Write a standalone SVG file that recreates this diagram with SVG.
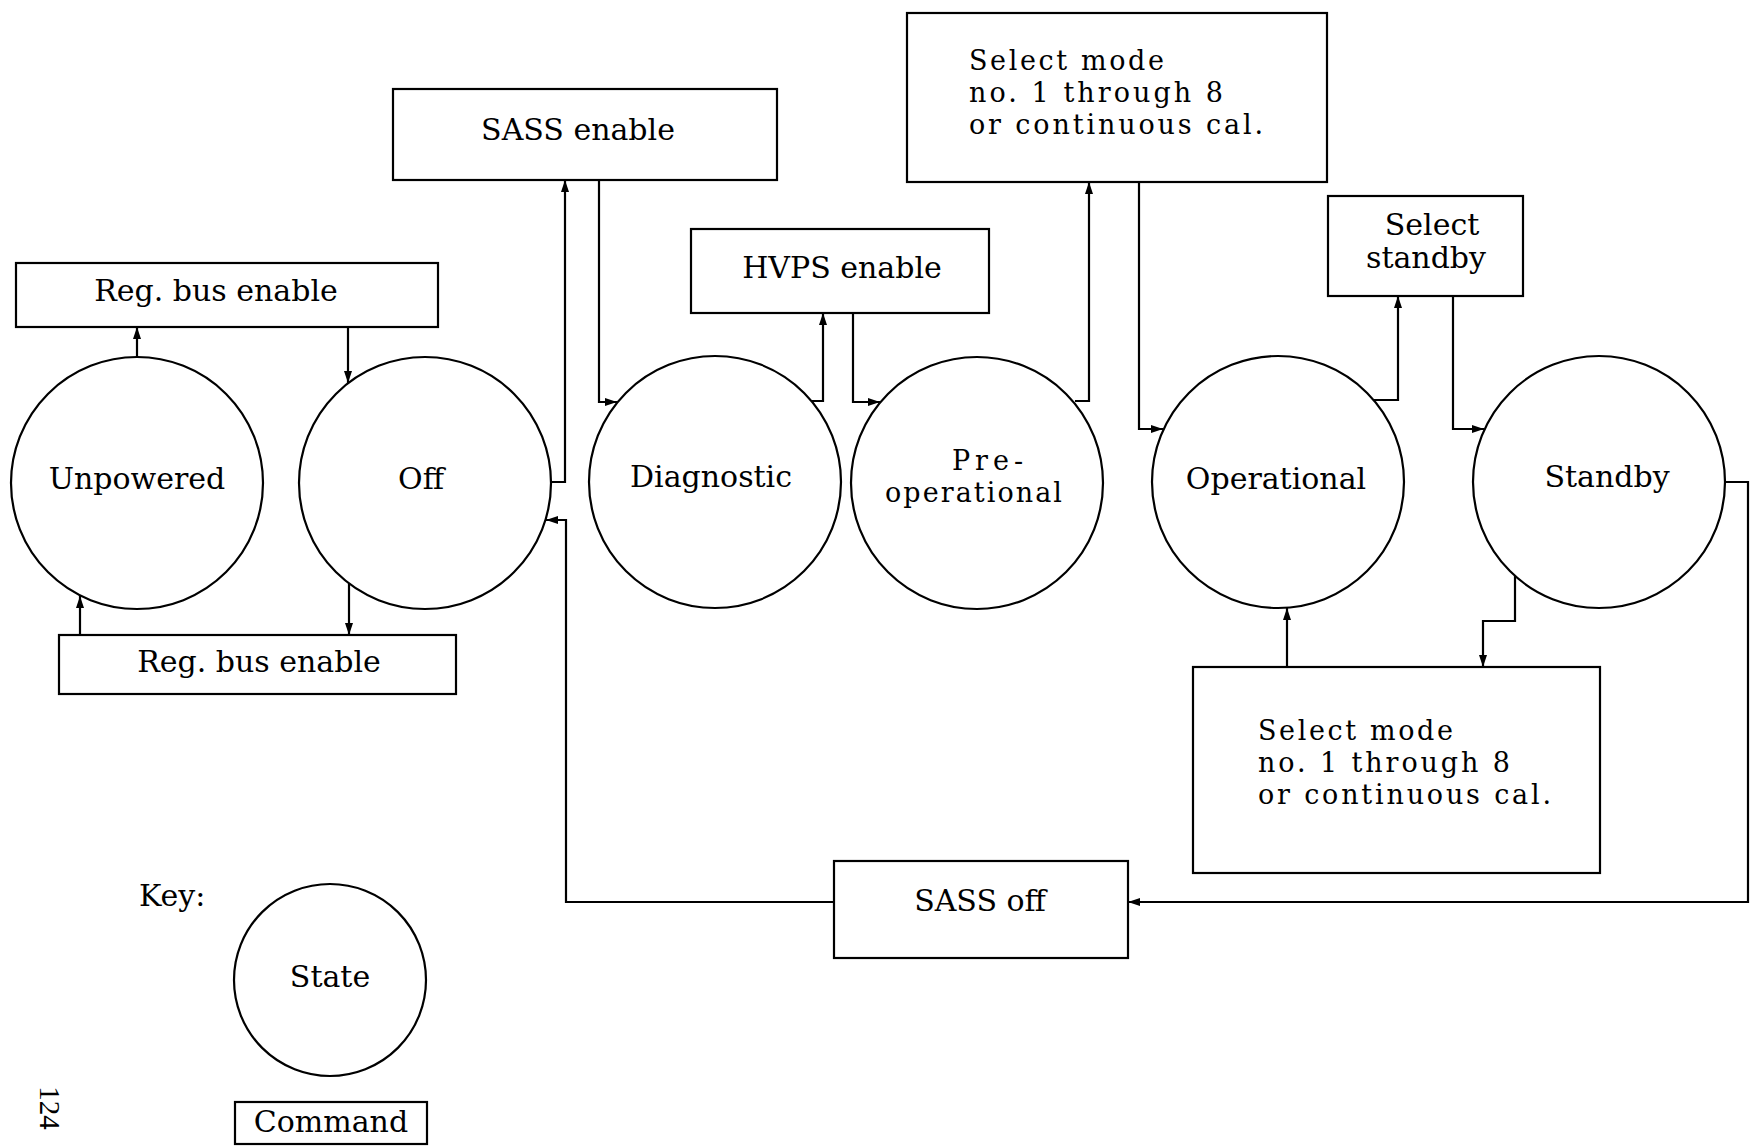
<svg xmlns="http://www.w3.org/2000/svg" width="1750" height="1146" viewBox="0 0 1750 1146">
<style>
  .st { fill: none; stroke: #000; stroke-width: 2.2; }
  .cmd { fill: #fff; stroke: #000; stroke-width: 2.2; }
  .t { font-family: "DejaVu Serif", "Liberation Serif", serif; font-size: 30px; fill: #000; }
  .m { font-size: 27px; }
  .c { text-anchor: middle; }
  .conn path { fill: none; stroke: #000; stroke-width: 2.2; marker-end: url(#arr); }
</style>
<defs>
  <marker id="arr" markerUnits="userSpaceOnUse" markerWidth="14" markerHeight="10" refX="12" refY="4" orient="auto">
    <path d="M0,0 L12,4 L0,8 z" fill="#000"/>
  </marker>
</defs>
<rect width="1750" height="1146" fill="#fff"/>

<g id="connectors" class="conn">
  <path d="M137,357 V327"/>
  <path d="M348,327 V383"/>
  <path d="M349,583 V635"/>
  <path d="M80,635 V596"/>
  <path d="M551,482 H565 V180"/>
  <path d="M599,180 V402 H617"/>
  <path d="M812,401 H823 V313"/>
  <path d="M853,313 V402 H880"/>
  <path d="M1075,401 H1089 V182"/>
  <path d="M1139,182 V429 H1163"/>
  <path d="M1374,400 H1398 V296"/>
  <path d="M1453,296 V429 H1484"/>
  <path d="M1515,576 V621 H1483 V667"/>
  <path d="M1287,667 V608"/>
  <path d="M1725,482 H1748 V902 H1128"/>
  <path d="M834,902 H566 V520 H546"/>
</g>

<g id="state-unpowered">
  <circle class="st" cx="137" cy="483" r="126"/>
  <text class="t c" x="137" y="489">Unpowered</text>
</g>
<g id="state-off">
  <circle class="st" cx="425" cy="483" r="126"/>
  <text class="t c" x="421" y="489">Off</text>
</g>
<g id="state-diagnostic">
  <circle class="st" cx="715" cy="482" r="126"/>
  <text class="t c" x="711" y="487">Diagnostic</text>
</g>
<g id="state-preoperational">
  <circle class="st" cx="977" cy="483" r="126"/>
  <text class="t m" x="952" y="470" textLength="71" lengthAdjust="spacing">Pre-</text>
  <text class="t m" x="885" y="502" textLength="177" lengthAdjust="spacing">operational</text>
</g>
<g id="state-operational">
  <circle class="st" cx="1278" cy="482" r="126"/>
  <text class="t c" x="1276" y="489">Operational</text>
</g>
<g id="state-standby">
  <circle class="st" cx="1599" cy="482" r="126"/>
  <text class="t c" x="1607" y="487">Standby</text>
</g>

<g id="cmd-regbus-top">
  <rect class="cmd" x="16" y="263" width="422" height="64"/>
  <text class="t c" x="216" y="301">Reg. bus enable</text>
</g>
<g id="cmd-regbus-bottom">
  <rect class="cmd" x="59" y="635" width="397" height="59"/>
  <text class="t c" x="259" y="672">Reg. bus enable</text>
</g>
<g id="cmd-sass-enable">
  <rect class="cmd" x="393" y="89" width="384" height="91"/>
  <text class="t c" x="578" y="140">SASS enable</text>
</g>
<g id="cmd-hvps-enable">
  <rect class="cmd" x="691" y="229" width="298" height="84"/>
  <text class="t c" x="842" y="278">HVPS enable</text>
</g>
<g id="cmd-select-mode-top">
  <rect class="cmd" x="907" y="13" width="420" height="169"/>
  <text class="t m" x="969" y="70" textLength="195" lengthAdjust="spacing">Select mode</text>
  <text class="t m" x="969" y="102" textLength="254" lengthAdjust="spacing">no. 1 through 8</text>
  <text class="t m" x="969" y="134" textLength="294" lengthAdjust="spacing">or continuous cal.</text>
</g>
<g id="cmd-select-standby">
  <rect class="cmd" x="1328" y="196" width="195" height="100"/>
  <text class="t c" x="1432" y="235">Select</text>
  <text class="t c" x="1426" y="268">standby</text>
</g>
<g id="cmd-select-mode-bottom">
  <rect class="cmd" x="1193" y="667" width="407" height="206"/>
  <text class="t m" x="1258" y="740" textLength="195" lengthAdjust="spacing">Select mode</text>
  <text class="t m" x="1258" y="772" textLength="252" lengthAdjust="spacing">no. 1 through 8</text>
  <text class="t m" x="1258" y="804" textLength="293" lengthAdjust="spacing">or continuous cal.</text>
</g>
<g id="cmd-sass-off">
  <rect class="cmd" x="834" y="861" width="294" height="97"/>
  <text class="t c" x="980" y="911">SASS off</text>
</g>

<g id="key">
  <text class="t" x="139" y="906">Key:</text>
  <circle class="st" cx="330" cy="980" r="96"/>
  <text class="t c" x="330" y="987">State</text>
  <rect class="cmd" x="235" y="1102" width="192" height="42"/>
  <text class="t c" x="331" y="1132">Command</text>
</g>

<text id="page-number" x="0" y="0" transform="translate(40,1108) rotate(90)" text-anchor="middle" font-family="Liberation Serif, serif" font-size="29">124</text>
</svg>
